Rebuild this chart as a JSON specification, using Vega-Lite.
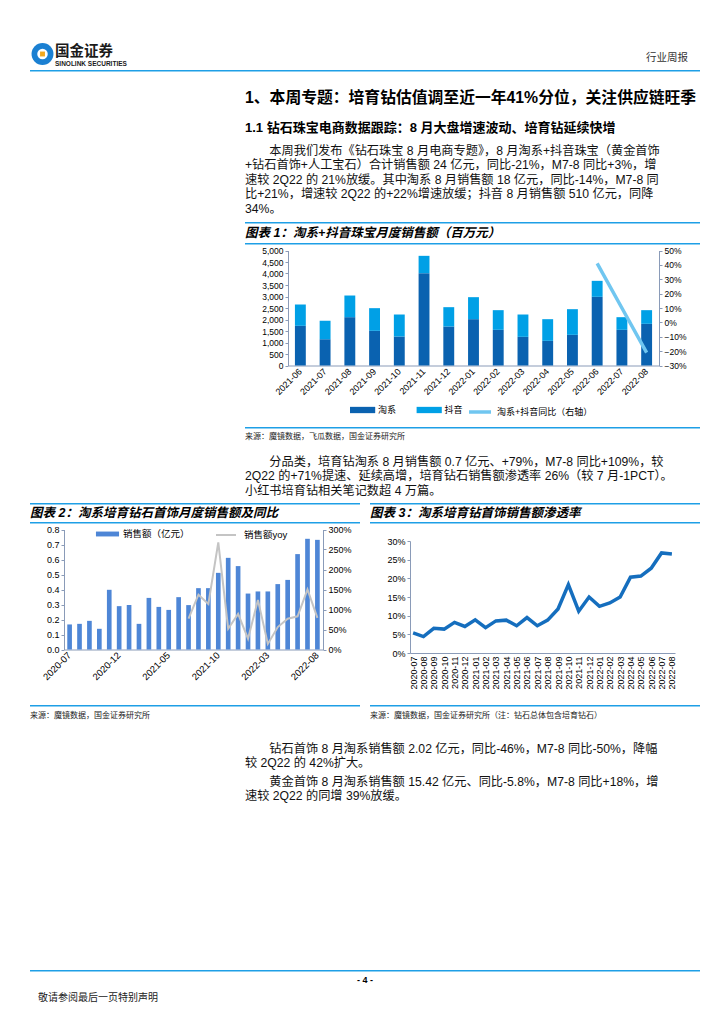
{
  "$schema": "https://vega.github.io/schema/vega-lite/v6.json",
  "background": "white",
  "padding": {"left": 30, "top": 38, "right": 0, "bottom": 0},
  "spacing": 0,
  "resolve": {"scale": {"color": "independent", "stroke": "independent"}, "legend": {"color": "independent", "stroke": "independent"}},
  "config": {
    "font": "Liberation Sans, Noto Sans CJK SC, sans-serif",
    "view": {"stroke": null},
    "axis": {"labelFont": "Liberation Sans, Noto Sans CJK SC", "labelColor": "#000000", "domainColor": "#8a9bb8", "tickColor": "#8a9bb8", "grid": false, "labelFontSize": 8.5, "tickSize": 3, "labelPadding": 2},
    "legend": {"labelFont": "Liberation Sans, Noto Sans CJK SC", "labelColor": "#000000", "labelFontSize": 9},
    "title": {"font": "Liberation Sans, Noto Sans CJK SC", "color": "#000000", "anchor": "start", "frame": "group", "orient": "bottom", "fontWeight": "normal"}
  },
  "datasets": {
    "c1bars": [
      {"month": "2021-06", "series": "淘系", "value": 1725}, {"month": "2021-06", "series": "抖音", "value": 927},
      {"month": "2021-07", "series": "淘系", "value": 1145}, {"month": "2021-07", "series": "抖音", "value": 797},
      {"month": "2021-08", "series": "淘系", "value": 2101}, {"month": "2021-08", "series": "抖音", "value": 942},
      {"month": "2021-09", "series": "淘系", "value": 1507}, {"month": "2021-09", "series": "抖音", "value": 986},
      {"month": "2021-10", "series": "淘系", "value": 1261}, {"month": "2021-10", "series": "抖音", "value": 956},
      {"month": "2021-11", "series": "淘系", "value": 4014}, {"month": "2021-11", "series": "抖音", "value": 754},
      {"month": "2021-12", "series": "淘系", "value": 1696}, {"month": "2021-12", "series": "抖音", "value": 840},
      {"month": "2022-01", "series": "淘系", "value": 2014}, {"month": "2022-01", "series": "抖音", "value": 957},
      {"month": "2022-02", "series": "淘系", "value": 1551}, {"month": "2022-02", "series": "抖音", "value": 855},
      {"month": "2022-03", "series": "淘系", "value": 1246}, {"month": "2022-03", "series": "抖音", "value": 971},
      {"month": "2022-04", "series": "淘系", "value": 1072}, {"month": "2022-04", "series": "抖音", "value": 942},
      {"month": "2022-05", "series": "淘系", "value": 1333}, {"month": "2022-05", "series": "抖音", "value": 1116},
      {"month": "2022-06", "series": "淘系", "value": 2986}, {"month": "2022-06", "series": "抖音", "value": 695},
      {"month": "2022-07", "series": "淘系", "value": 1551}, {"month": "2022-07", "series": "抖音", "value": 550},
      {"month": "2022-08", "series": "淘系", "value": 1812}, {"month": "2022-08", "series": "抖音", "value": 594}
    ],
    "c1yoy": [
      {"month": "2022-06", "yoy": 0.41},
      {"month": "2022-07", "yoy": 0.10},
      {"month": "2022-08", "yoy": -0.21}
    ],
    "c2": [
      {"month": "2020-07", "sales": 0.167, "yoy": null},
      {"month": "2020-08", "sales": 0.171, "yoy": null},
      {"month": "2020-09", "sales": 0.191, "yoy": null},
      {"month": "2020-10", "sales": 0.138, "yoy": null},
      {"month": "2020-11", "sales": 0.398, "yoy": null},
      {"month": "2020-12", "sales": 0.289, "yoy": null},
      {"month": "2021-01", "sales": 0.296, "yoy": null},
      {"month": "2021-02", "sales": 0.171, "yoy": null},
      {"month": "2021-03", "sales": 0.344, "yoy": null},
      {"month": "2021-04", "sales": 0.284, "yoy": null},
      {"month": "2021-05", "sales": 0.264, "yoy": null},
      {"month": "2021-06", "sales": 0.349, "yoy": null},
      {"month": "2021-07", "sales": 0.296, "yoy": 0.77},
      {"month": "2021-08", "sales": 0.409, "yoy": 1.37},
      {"month": "2021-09", "sales": 0.409, "yoy": 1.14},
      {"month": "2021-10", "sales": 0.511, "yoy": 2.68},
      {"month": "2021-11", "sales": 0.611, "yoy": 0.52},
      {"month": "2021-12", "sales": 0.556, "yoy": 0.89},
      {"month": "2022-01", "sales": 0.373, "yoy": 0.27},
      {"month": "2022-02", "sales": 0.387, "yoy": 1.24},
      {"month": "2022-03", "sales": 0.387, "yoy": 0.14},
      {"month": "2022-04", "sales": 0.436, "yoy": 0.56},
      {"month": "2022-05", "sales": 0.464, "yoy": 0.77},
      {"month": "2022-06", "sales": 0.636, "yoy": 0.83},
      {"month": "2022-07", "sales": 0.738, "yoy": 1.50},
      {"month": "2022-08", "sales": 0.731, "yoy": 0.79}
    ],
    "c3": [
      {"month": "2020-07", "rate": 0.054}, {"month": "2020-08", "rate": 0.044},
      {"month": "2020-09", "rate": 0.066}, {"month": "2020-10", "rate": 0.064},
      {"month": "2020-11", "rate": 0.082}, {"month": "2020-12", "rate": 0.071},
      {"month": "2021-01", "rate": 0.089}, {"month": "2021-02", "rate": 0.068},
      {"month": "2021-03", "rate": 0.086}, {"month": "2021-04", "rate": 0.088},
      {"month": "2021-05", "rate": 0.073}, {"month": "2021-06", "rate": 0.095},
      {"month": "2021-07", "rate": 0.073}, {"month": "2021-08", "rate": 0.088},
      {"month": "2021-09", "rate": 0.118}, {"month": "2021-10", "rate": 0.183},
      {"month": "2021-11", "rate": 0.112}, {"month": "2021-12", "rate": 0.150},
      {"month": "2022-01", "rate": 0.125}, {"month": "2022-02", "rate": 0.134},
      {"month": "2022-03", "rate": 0.150}, {"month": "2022-04", "rate": 0.203},
      {"month": "2022-05", "rate": 0.206}, {"month": "2022-06", "rate": 0.227},
      {"month": "2022-07", "rate": 0.268}, {"month": "2022-08", "rate": 0.265}
    ]
  },
  "vconcat": [
    {
      "bounds": "flush", "spacing": 0,
      "hconcat": [
        {
          "width": 25, "height": 32,
          "data": {"values": [{"k": 1}]},
          "layer": [
            {"mark": {"type": "circle", "size": 480, "color": "#1b80d2", "opacity": 1}},
            {"mark": {"type": "circle", "size": 110, "color": "#ffffff", "opacity": 1}},
            {"mark": {"type": "square", "size": 24, "color": "#f4a81d", "opacity": 1}}
          ]
        },
        {"width": 100, "height": 32, "data": {"values": []}, "mark": "point", "encoding": {},
         "title": {"text": "国金证券", "subtitle": "SINOLINK SECURITIES", "orient": "bottom", "anchor": "start", "offset": -25.2, "fontSize": 14.5, "fontWeight": "bold", "color": "#1a1a1a", "subtitleFontSize": 6.5, "subtitleFontWeight": "bold", "subtitleColor": "#1a1a1a", "subtitlePadding": 1.5, "subtitleFont": "Liberation Sans"}},
        {"width": 533, "height": 32, "data": {"values": []}, "mark": "point", "encoding": {},
         "title": {"text": "行业周报", "orient": "bottom", "anchor": "end", "offset": -17.4, "fontSize": 10.5, "color": "#333333"}}
      ]
    },
    {"width": 670, "height": 1.5, "data": {"values": []}, "mark": "point", "encoding": {}, "view": {"fill": "#1e9fe6", "stroke": null}},
    {
      "bounds": "flush", "spacing": 0,
      "hconcat": [
        {"width": 215, "height": 40.5, "data": {"values": []}, "mark": "point", "encoding": {}},
        {"width": 455, "height": 40.5, "data": {"values": []}, "mark": "point", "encoding": {},
         "title": {"text": "1、本周专题：培育钻估值调至近一年41%分位，关注供应链旺季", "orient": "bottom", "anchor": "start", "offset": -22, "fontSize": 15.8, "fontWeight": "bold"}}
      ]
    },
    {
      "bounds": "flush", "spacing": 0,
      "hconcat": [
        {"width": 215, "height": 28, "data": {"values": []}, "mark": "point", "encoding": {}},
        {"width": 455, "height": 28, "data": {"values": []}, "mark": "point", "encoding": {},
         "title": {"text": "1.1 钻石珠宝电商数据跟踪：8 月大盘增速波动、培育钻延续快增", "orient": "bottom", "anchor": "start", "offset": -19, "fontSize": 13, "fontWeight": "bold"}}
      ]
    },
    {
      "bounds": "flush", "spacing": 0,
      "hconcat": [
        {"width": 215, "height": 81, "data": {"values": []}, "mark": "point", "encoding": {}},
        {"width": 455, "height": 81, "data": {"values": []}, "mark": "point", "encoding": {},
         "title": {"text": ["\u200b　　本周我们发布《钻石珠宝 8 月电商专题》，8 月淘系+抖音珠宝（黄金首饰", "+钻石首饰+人工宝石）合计销售额 24 亿元，同比-21%，M7-8 同比+3%，增", "速较 2Q22 的 21%放缓。其中淘系 8 月销售额 18 亿元，同比-14%，M7-8 同", "比+21%，增速较 2Q22 的+22%增速放缓；抖音 8 月销售额 510 亿元，同降", "34%。"], "orient": "bottom", "anchor": "start", "offset": -77.25, "fontSize": 12.2, "lineHeight": 14.5, "color": "#111111"}}
      ]
    },
    {
      "bounds": "flush", "spacing": 0,
      "hconcat": [
        {"width": 215, "height": 1.5, "data": {"values": []}, "mark": "point", "encoding": {}},
        {"width": 455, "height": 1.5, "data": {"values": []}, "mark": "point", "encoding": {}, "view": {"fill": "#1e9fe6", "stroke": null}}
      ]
    },
    {
      "bounds": "flush", "spacing": 0,
      "hconcat": [
        {"width": 215, "height": 18.5, "data": {"values": []}, "mark": "point", "encoding": {}},
        {"width": 455, "height": 18.5, "data": {"values": []}, "mark": "point", "encoding": {},
         "title": {"text": "图表 1：淘系+抖音珠宝月度销售额（百万元）", "orient": "bottom", "anchor": "start", "offset": -15.25, "fontSize": 12.5, "fontWeight": "bold", "fontStyle": "italic"}}
      ]
    },
    {
      "bounds": "flush", "spacing": 0,
      "hconcat": [
        {"width": 215, "height": 1.5, "data": {"values": []}, "mark": "point", "encoding": {}},
        {"width": 455, "height": 1.5, "data": {"values": []}, "mark": "point", "encoding": {}, "view": {"fill": "#1e9fe6", "stroke": null}}
      ]
    },
    {
      "bounds": "flush", "spacing": 0,
      "hconcat": [
        {"width": 258, "height": 182, "data": {"values": []}, "mark": "point", "encoding": {}},
        {
          "width": 371, "height": 120.5,
          "layer": [
            {
              "data": {"name": "c1bars"},
              "mark": {"type": "bar"},
              "encoding": {
                "x": {"field": "month", "type": "ordinal", "scale": {"paddingInner": 0.56, "paddingOuter": 0.28},
                      "axis": {"title": null, "labelAngle": -45, "labelAlign": "right", "labelBaseline": "middle", "labelFontSize": 9, "ticks": false, "labelPadding": 4}},
                "y": {"field": "value", "type": "quantitative", "stack": "zero", "scale": {"domain": [0, 5000], "nice": false, "range": [120.5, 5.5]},
                      "axis": {"title": null, "values": [0, 500, 1000, 1500, 2000, 2500, 3000, 3500, 4000, 4500, 5000], "format": ",.0f"}},
                "color": {"field": "series", "type": "nominal", "scale": {"domain": ["淘系", "抖音"], "range": ["#0a62b0", "#00a0e6"]},
                          "legend": {"title": null, "orient": "none", "legendX": 325.6, "legendY": 158, "direction": "horizontal", "symbolType": "M-1.8,-0.45L1.8,-0.45L1.8,0.45L-1.8,0.45Z", "symbolSize": 196, "symbolStrokeWidth": 0, "labelOffset": 8.4, "columnPadding": 19.6}},
                "order": {"field": "series", "sort": "descending"}
              }
            },
            {
              "data": {"name": "c1yoy"},
              "mark": {"type": "line", "strokeWidth": 3.5},
              "encoding": {
                "x": {"field": "month", "type": "ordinal"},
                "y": {"field": "yoy", "type": "quantitative", "scale": {"domain": [-0.3, 0.5], "nice": false, "range": [120.5, 5.5]},
                      "axis": {"title": null, "orient": "right", "values": [-0.3, -0.2, -0.1, 0, 0.1, 0.2, 0.3, 0.4, 0.5], "format": ".0%"}},
                "stroke": {"datum": "淘系+抖音同比（右轴）", "scale": {"range": ["#70c6f0"]},
                           "legend": {"title": null, "orient": "none", "legendX": 437, "legendY": 154, "symbolType": "stroke", "symbolSize": 484, "symbolStrokeWidth": 3.5, "labelOffset": 4}}
              }
            }
          ],
          "resolve": {"scale": {"y": "independent"}}
        }
      ]
    },
    {
      "bounds": "flush", "spacing": 0,
      "hconcat": [
        {"width": 215, "height": 1.5, "data": {"values": []}, "mark": "point", "encoding": {}},
        {"width": 455, "height": 1.5, "data": {"values": []}, "mark": "point", "encoding": {}, "view": {"fill": "#1e9fe6", "stroke": null}}
      ]
    },
    {
      "bounds": "flush", "spacing": 0,
      "hconcat": [
        {"width": 215, "height": 21.5, "data": {"values": []}, "mark": "point", "encoding": {}},
        {"width": 455, "height": 21.5, "data": {"values": []}, "mark": "point", "encoding": {},
         "title": {"text": "来源：魔镜数据，飞瓜数据，国金证券研究所", "orient": "bottom", "anchor": "start", "offset": -17.9, "fontSize": 8, "color": "#222222"}}
      ]
    },
    {
      "bounds": "flush", "spacing": 0,
      "hconcat": [
        {"width": 215, "height": 52, "data": {"values": []}, "mark": "point", "encoding": {}},
        {"width": 455, "height": 52, "data": {"values": []}, "mark": "point", "encoding": {},
         "title": {"text": ["\u200b　　分品类，培育钻淘系 8 月销售额 0.7 亿元、+79%，M7-8 同比+109%，较", "2Q22 的+71%提速、延续高增，培育钻石销售额渗透率 26%（较 7 月-1PCT）。", "小红书培育钻相关笔记数超 4 万篇。"], "orient": "bottom", "anchor": "start", "offset": -47.25, "fontSize": 12.2, "lineHeight": 14.5, "color": "#111111"}}
      ]
    },
    {
      "bounds": "flush", "spacing": 0,
      "hconcat": [
        {"width": 330, "height": 1.5, "data": {"values": []}, "mark": "point", "encoding": {}, "view": {"fill": "#1e9fe6", "stroke": null}},
        {"width": 10, "height": 1.5, "data": {"values": []}, "mark": "point", "encoding": {}},
        {"width": 330, "height": 1.5, "data": {"values": []}, "mark": "point", "encoding": {}, "view": {"fill": "#1e9fe6", "stroke": null}}
      ]
    },
    {
      "bounds": "flush", "spacing": 0,
      "hconcat": [
        {"width": 330, "height": 17, "data": {"values": []}, "mark": "point", "encoding": {},
         "title": {"text": "图表 2：淘系培育钻石首饰月度销售额及同比", "orient": "bottom", "anchor": "start", "offset": -14.75, "fontSize": 12.5, "fontWeight": "bold", "fontStyle": "italic"}},
        {"width": 10, "height": 17, "data": {"values": []}, "mark": "point", "encoding": {}},
        {"width": 330, "height": 17, "data": {"values": []}, "mark": "point", "encoding": {},
         "title": {"text": "图表 3：淘系培育钻首饰销售额渗透率", "orient": "bottom", "anchor": "start", "offset": -14.75, "fontSize": 12.5, "fontWeight": "bold", "fontStyle": "italic"}}
      ]
    },
    {
      "bounds": "flush", "spacing": 0,
      "hconcat": [
        {"width": 330, "height": 1.5, "data": {"values": []}, "mark": "point", "encoding": {}, "view": {"fill": "#1e9fe6", "stroke": null}},
        {"width": 10, "height": 1.5, "data": {"values": []}, "mark": "point", "encoding": {}},
        {"width": 330, "height": 1.5, "data": {"values": []}, "mark": "point", "encoding": {}, "view": {"fill": "#1e9fe6", "stroke": null}}
      ]
    },
    {
      "bounds": "flush", "spacing": 0,
      "hconcat": [
        {"width": 34, "height": 180.5, "data": {"values": []}, "mark": "point", "encoding": {}},
        {
          "width": 259, "height": 125.5,
          "data": {"name": "c2"},
          "layer": [
            {
              "mark": {"type": "bar"},
              "encoding": {
                "x": {"field": "month", "type": "ordinal", "scale": {"paddingInner": 0.53, "paddingOuter": 0.33},
                      "axis": {"title": null, "values": ["2020-07", "2020-12", "2021-05", "2021-10", "2022-03", "2022-08"], "labelAngle": -45, "labelAlign": "right", "labelBaseline": "middle", "labelFontSize": 9.5, "ticks": false, "labelPadding": 4}},
                "y": {"field": "sales", "type": "quantitative", "scale": {"domain": [0, 0.8], "nice": false, "range": [125.5, 5.5]},
                      "axis": {"title": null, "values": [0, 0.1, 0.2, 0.3, 0.4, 0.5, 0.6, 0.7, 0.8], "format": ".1f", "labelFontSize": 9}},
                "color": {"datum": "销售额（亿元）", "scale": {"range": ["#4e86d6"]},
                          "legend": {"title": null, "orient": "none", "legendX": 70.5, "legendY": 3, "symbolType": "M-1.65,-0.35L1.65,-0.35L1.65,0.35L-1.65,0.35Z", "symbolSize": 196, "symbolStrokeWidth": 0, "labelOffset": 8.5, "labelFontSize": 9.5}}
              }
            },
            {
              "mark": {"type": "line", "strokeWidth": 2},
              "encoding": {
                "x": {"field": "month", "type": "ordinal"},
                "y": {"field": "yoy", "type": "quantitative", "scale": {"domain": [0, 3], "nice": false, "range": [125.5, 5.5]},
                      "axis": {"title": null, "orient": "right", "values": [0, 0.5, 1, 1.5, 2, 2.5, 3], "format": ".0%", "labelFontSize": 9}},
                "stroke": {"datum": "销售额yoy", "scale": {"range": ["#c4c4c4"]},
                           "legend": {"title": null, "orient": "none", "legendX": 185, "legendY": 0, "symbolType": "stroke", "symbolSize": 400, "symbolStrokeWidth": 2, "labelOffset": 7, "labelFontSize": 9.5}}
              }
            }
          ],
          "resolve": {"scale": {"y": "independent"}}
        },
        {"width": 87, "height": 1, "data": {"values": []}, "mark": "point", "encoding": {}},
        {
          "width": 265, "height": 129,
          "data": {"name": "c3"},
          "mark": {"type": "line", "strokeWidth": 3.5, "color": "#156ebe"},
          "encoding": {
            "x": {"field": "month", "type": "ordinal", "scale": {"type": "point", "padding": 0.3},
                  "axis": {"title": null, "labelAngle": -90, "labelAlign": "right", "labelBaseline": "middle", "labelFontSize": 9, "ticks": false, "labelPadding": 3}},
            "y": {"field": "rate", "type": "quantitative", "scale": {"domain": [0, 0.3], "nice": false, "range": [129, 17]},
                  "axis": {"title": null, "values": [0, 0.05, 0.1, 0.15, 0.2, 0.25, 0.3], "format": ".0%", "labelFontSize": 9}}
          }
        }
      ]
    },
    {
      "bounds": "flush", "spacing": 0,
      "hconcat": [
        {"width": 330, "height": 1.5, "data": {"values": []}, "mark": "point", "encoding": {}, "view": {"fill": "#1e9fe6", "stroke": null}},
        {"width": 10, "height": 1.5, "data": {"values": []}, "mark": "point", "encoding": {}},
        {"width": 330, "height": 1.5, "data": {"values": []}, "mark": "point", "encoding": {}, "view": {"fill": "#1e9fe6", "stroke": null}}
      ]
    },
    {
      "bounds": "flush", "spacing": 0,
      "hconcat": [
        {"width": 330, "height": 18, "data": {"values": []}, "mark": "point", "encoding": {},
         "title": {"text": "来源：魔镜数据，国金证券研究所", "orient": "bottom", "anchor": "start", "offset": -13.4, "fontSize": 8, "color": "#222222"}},
        {"width": 10, "height": 18, "data": {"values": []}, "mark": "point", "encoding": {}},
        {"width": 330, "height": 18, "data": {"values": []}, "mark": "point", "encoding": {},
         "title": {"text": "来源：魔镜数据，国金证券研究所（注：钻石总体包含培育钻石）", "orient": "bottom", "anchor": "start", "offset": -13.4, "fontSize": 8, "color": "#222222"}}
      ]
    },
    {
      "bounds": "flush", "spacing": 0,
      "hconcat": [
        {"width": 215, "height": 45, "data": {"values": []}, "mark": "point", "encoding": {}},
        {"width": 455, "height": 45, "data": {"values": []}, "mark": "point", "encoding": {},
         "title": {"text": ["\u200b　　钻石首饰 8 月淘系销售额 2.02 亿元，同比-46%，M7-8 同比-50%，降幅", "较 2Q22 的 42%扩大。"], "orient": "bottom", "anchor": "start", "offset": -27.25, "fontSize": 12.2, "lineHeight": 14.5, "color": "#111111"}}
      ]
    },
    {
      "bounds": "flush", "spacing": 0,
      "hconcat": [
        {"width": 215, "height": 50, "data": {"values": []}, "mark": "point", "encoding": {}},
        {"width": 455, "height": 50, "data": {"values": []}, "mark": "point", "encoding": {},
         "title": {"text": ["\u200b　　黄金首饰 8 月淘系销售额 15.42 亿元、同比-5.8%，M7-8 同比+18%，增", "速较 2Q22 的同增 39%放缓。"], "orient": "bottom", "anchor": "start", "offset": -44.25, "fontSize": 12.2, "lineHeight": 14.5, "color": "#111111"}}
      ]
    },
    {"width": 1, "height": 150, "data": {"values": []}, "mark": "point", "encoding": {}},
    {"width": 670, "height": 1.5, "data": {"values": []}, "mark": "point", "encoding": {}, "view": {"fill": "#1e9fe6", "stroke": null}},
    {"width": 670, "height": 14, "data": {"values": []}, "mark": "point", "encoding": {},
     "title": {"text": "- 4 -", "orient": "bottom", "anchor": "middle", "offset": -10.3, "fontSize": 9, "fontWeight": "bold"}},
    {
      "bounds": "flush", "spacing": 0,
      "hconcat": [
        {"width": 8, "height": 25, "data": {"values": []}, "mark": "point", "encoding": {}},
        {"width": 300, "height": 25, "data": {"values": []}, "mark": "point", "encoding": {},
         "title": {"text": "敬请参阅最后一页特别声明", "orient": "bottom", "anchor": "start", "offset": -17.6, "fontSize": 10, "color": "#222222"}}
      ]
    }
  ]
}
